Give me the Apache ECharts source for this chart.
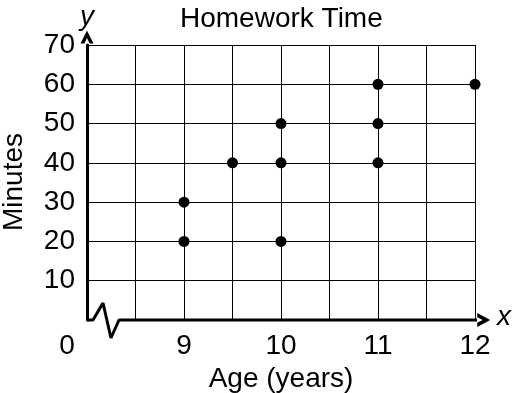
<!DOCTYPE html>
<html>
<head>
<meta charset="utf-8">
<script src="https://cdn.jsdelivr.net/npm/echarts@6/dist/echarts.min.js"></script>
<style>
html,body{margin:0;padding:0;background:#fff;}
#c{width:521px;height:393px;}
</style>
</head>
<body>
<div id="c"></div>
<script>
// Data
const ages = [9, 9, 9.5, 10, 10, 10, 11, 11, 11, 12];
const minutes = [30, 20, 40, 50, 40, 20, 60, 50, 40, 60];
const yTicks = [10, 20, 30, 40, 50, 60, 70];
const xTickLabels = {8: '0', 9: '9', 10: '10', 11: '11', 12: '12'};
// x-axis break (zigzag) and axis line, in axis units
const axisPathX = [8, 8.062, 8.165, 8.247, 8.33, 12.09];
const axisPathY = [0, 0, 4.33, -4.58, 0, 0];

const font = 'Liberation Sans, Arial, sans-serif';
const chevron = 'path://M0,12 L6,0 L12,12 L8.4,12 L6,7 L3.6,12 Z';

const chart = echarts.init(document.getElementById('c'), null, {renderer: 'canvas'});
chart.setOption({
  animation: false,
  backgroundColor: '#fff',
  title: {
    text: 'Homework Time',
    left: 175, top: 0,
    textStyle: {fontFamily: font, fontSize: 28, fontWeight: 'normal', color: '#000'}
  },
  grid: {left: 87, right: 46, top: 45, bottom: 73, containLabel: false, outerBoundsMode: 'none'},
  xAxis: {
    type: 'value', min: 8, max: 12, interval: 0.5,
    name: 'Age (years)', nameLocation: 'middle', nameGap: 40,
    nameTextStyle: {fontFamily: font, fontSize: 28, color: '#000'},
    axisLine: {show: false},
    axisTick: {show: false},
    axisLabel: {
      margin: 12,
      fontFamily: font, fontSize: 28, color: '#000',
      formatter: function (v) {
        const s = xTickLabels[v];
        if (s === undefined) return '';
        if (v === 8) return '{o|' + s + '}';
        return s;
      },
      rich: {o: {fontFamily: font, fontSize: 28, color: '#000', padding: [0, 40, 0, 0]}}
    },
    splitLine: {show: true, showMinLine: false, lineStyle: {color: '#000', width: 1}}
  },
  yAxis: {
    type: 'value', min: 0, max: 70, interval: 10,
    name: 'y', nameLocation: 'end', nameGap: 12,
    nameTextStyle: {fontFamily: font, fontSize: 28, fontStyle: 'italic', color: '#000'},
    axisLine: {show: true, lineStyle: {color: '#000', width: 3},
      symbol: ['none', chevron], symbolSize: [14, 13], symbolOffset: [0, 8]},
    axisTick: {show: false},
    axisLabel: {
      margin: 12, showMinLabel: false,
      fontFamily: font, fontSize: 28, color: '#000',
      formatter: function (v) { return yTicks.indexOf(v) >= 0 ? String(v) : ''; }
    },
    splitLine: {show: true, showMinLine: false, lineStyle: {color: '#000', width: 1}}
  },
  graphic: [
    {type: 'text', left: 497, top: 303,
      style: {text: 'x', font: 'italic 28px ' + font, fill: '#000'}},
    {type: 'text', x: 0, y: 231, rotation: Math.PI / 2,
      style: {text: 'Minutes', font: '28px ' + font, fill: '#000'}}
  ],
  series: [
    {
      type: 'line', clip: false, silent: true, symbol: 'none',
      data: axisPathX.map((x, i) => [x, axisPathY[i]]),
      lineStyle: {color: '#000', width: 3}, z: 5
    },
    {
      type: 'scatter', clip: false, silent: true,
      data: [[axisPathX[axisPathX.length - 1], 0]],
      symbol: chevron, symbolSize: [14, 13], symbolRotate: -90,
      itemStyle: {color: '#000', opacity: 1}, z: 6
    },
    {
      type: 'scatter', symbol: 'circle', symbolSize: 11,
      data: ages.map((a, i) => [a, minutes[i]]),
      itemStyle: {color: '#000', opacity: 1}, z: 7
    }
  ]
});
</script>
</body>
</html>
